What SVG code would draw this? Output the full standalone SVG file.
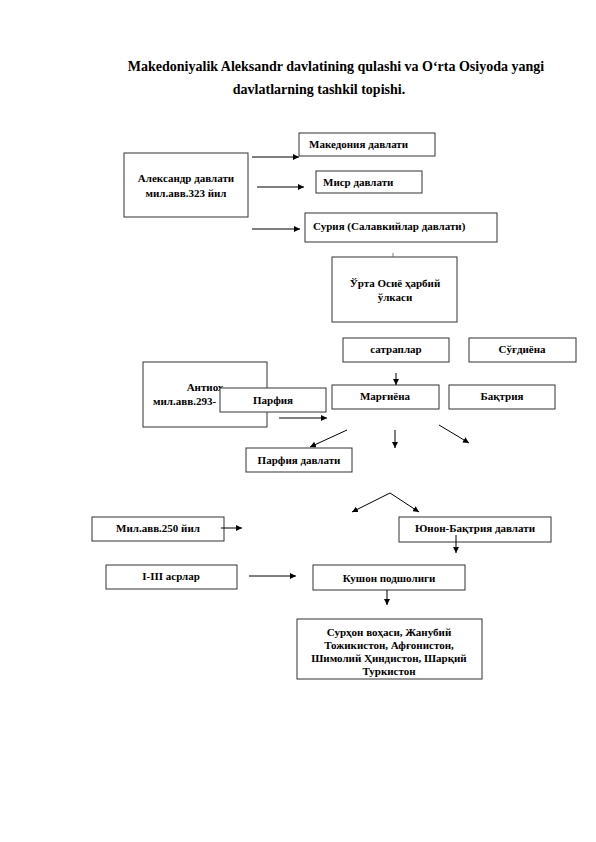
<svg xmlns="http://www.w3.org/2000/svg" width="596" height="842" viewBox="0 0 596 842">
<defs>
<style>
.t{font-family:"Liberation Serif","Times New Roman",serif;font-weight:bold;font-size:11px;fill:#000}
.title{font-family:"Liberation Serif","Times New Roman",serif;font-weight:bold;font-size:14px;fill:#000}
.b{fill:#fff;stroke:#333;stroke-width:1}
.c{fill:none;stroke:#000;stroke-width:1}
.m{text-anchor:middle}
</style>
<marker id="ah" viewBox="0 0 10 10" refX="10" refY="5" markerWidth="6" markerHeight="6" markerUnits="userSpaceOnUse" orient="auto">
<path d="M0,0 L10,5 L0,10 z" fill="#000"/>
</marker>
</defs>
<rect width="596" height="842" fill="#fff"/>
<text class="title m" x="336" y="71">Makedoniyalik Aleksandr davlatining qulashi va O‘rta Osiyoda yangi</text>
<text class="title m" x="319" y="94">davlatlarning tashkil topishi.</text>

<g id="n-aleksandr"><rect class="b" x="124" y="153" width="124" height="64"/><text class="t m" x="186" y="182">Александр давлати</text><text class="t m" x="186" y="197">мил.авв.323 йил</text></g>
<g id="n-makedoniya"><rect class="b" x="299" y="133" width="136" height="23"/><text class="t" x="309" y="148">Македония давлати</text></g>
<g id="n-misr"><rect class="b" x="316" y="171" width="106" height="22"/><text class="t" x="323" y="186">Миср давлати</text></g>
<g id="n-suriya"><rect class="b" x="305" y="213" width="192" height="29"/><text class="t" x="313" y="230">Сурия (Салавкийлар давлати)</text></g>
<g id="n-urta"><rect class="b" x="332" y="257" width="125" height="65"/><text class="t m" x="395" y="287">Ўрта Осиё ҳарбий</text><text class="t m" x="395" y="301">ўлкаси</text></g>
<g id="n-satraplar"><rect class="b" x="343" y="338" width="106" height="24"/><text class="t m" x="396" y="353">сатраплар</text></g>
<g id="n-sugdiyona"><rect class="b" x="469" y="338" width="107" height="24"/><text class="t m" x="522" y="353">Сўғдиёна</text></g>
<g id="n-antiox"><rect class="b" x="143" y="362" width="124" height="65"/><text class="t m" x="205" y="391">Антиох</text><text class="t" x="153" y="405">мил.авв.293-</text></g>
<g id="n-parfiya"><rect class="b" x="220" y="388" width="106" height="24"/><text class="t m" x="273" y="404">Парфия</text></g>
<g id="n-margiyona"><rect class="b" x="332" y="385" width="107" height="24"/><text class="t m" x="385" y="400">Марғиёна</text></g>
<g id="n-baqtriya"><rect class="b" x="449" y="385" width="106" height="24"/><text class="t m" x="502" y="400">Бақтрия</text></g>
<g id="n-parfiya-davlati"><rect class="b" x="246" y="448" width="106" height="24"/><text class="t m" x="299" y="464">Парфия давлати</text></g>
<g id="n-mil250"><rect class="b" x="92" y="517" width="132" height="24"/><text class="t m" x="158" y="532">Мил.авв.250 йил</text></g>
<g id="n-yunon"><rect class="b" x="399" y="517" width="152" height="25"/><text class="t m" x="475" y="532">Юнон-Бақтрия давлати</text></g>
<g id="n-asrlar"><rect class="b" x="106" y="565" width="131" height="24"/><text class="t m" x="171" y="580">I-III асрлар</text></g>
<g id="n-kushon"><rect class="b" x="313" y="565" width="152" height="25"/><text class="t m" x="389" y="582">Кушон подшолиги</text></g>
<g id="n-hududlar"><rect class="b" x="297" y="619" width="185" height="60"/><text class="t m" x="389" y="636">Сурҳон воҳаси, Жанубий</text><text class="t m" x="389" y="649">Тожикистон, Афғонистон,</text><text class="t m" x="389" y="662">Шимолий Ҳиндистон, Шарқий</text><text class="t m" x="389" y="675">Туркистон</text></g>

<g id="connectors">
<line class="c" x1="252" y1="157" x2="299" y2="157" marker-end="url(#ah)"/>
<line class="c" x1="257" y1="187" x2="304" y2="187" marker-end="url(#ah)"/>
<line class="c" x1="252" y1="229" x2="300" y2="229" marker-end="url(#ah)"/>
<line x1="393" y1="253" x2="393" y2="257" stroke="#666" stroke-width="0.8"/>
<line class="c" x1="396" y1="373" x2="396" y2="385" marker-end="url(#ah)"/>
<line class="c" x1="279" y1="418" x2="327" y2="418" marker-end="url(#ah)"/>
<line class="c" x1="347" y1="430" x2="310" y2="447" marker-end="url(#ah)"/>
<line class="c" x1="395" y1="430" x2="395" y2="448" marker-end="url(#ah)"/>
<line class="c" x1="439" y1="425" x2="469" y2="443" marker-end="url(#ah)"/>
<line class="c" x1="390" y1="493" x2="352" y2="512" marker-end="url(#ah)"/>
<line class="c" x1="390" y1="493" x2="419" y2="512" marker-end="url(#ah)"/>
<line class="c" x1="221" y1="528" x2="242" y2="528" marker-end="url(#ah)"/>
<line class="c" x1="456" y1="535" x2="456" y2="553" marker-end="url(#ah)"/>
<line class="c" x1="249" y1="576" x2="296" y2="576" marker-end="url(#ah)"/>
<line class="c" x1="387" y1="590" x2="387" y2="605" marker-end="url(#ah)"/>
</g>
</svg>
